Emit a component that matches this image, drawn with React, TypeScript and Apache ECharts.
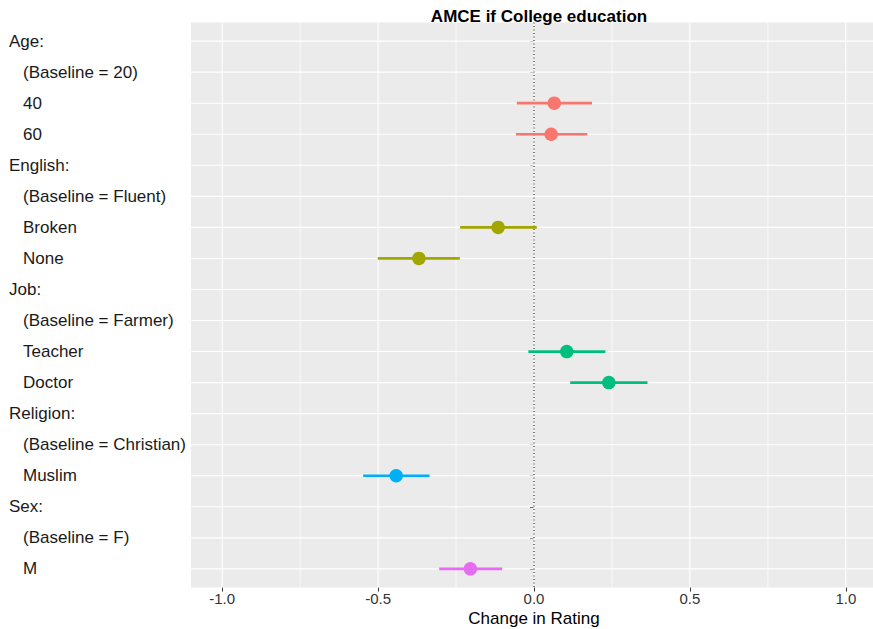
import React, { useEffect, useRef } from "react";
import * as echarts from "echarts";

// Row labels, top to bottom
const categories = [
  "Age:",
  "(Baseline = 20)",
  "40",
  "60",
  "English:",
  "(Baseline = Fluent)",
  "Broken",
  "None",
  "Job:",
  "(Baseline = Farmer)",
  "Teacher",
  "Doctor",
  "Religion:",
  "(Baseline = Christian)",
  "Muslim",
  "Sex:",
  "(Baseline = F)",
  "M",
];

// Estimated effects with confidence bounds
const levels = ["40", "60", "Broken", "None", "Teacher", "Doctor", "Muslim", "M"];
const attributes = ["Age", "Age", "English", "English", "Job", "Job", "Religion", "Sex"];
const estimates = [0.065, 0.055, -0.115, -0.369, 0.105, 0.24, -0.442, -0.204];
const lowerBounds = [-0.055, -0.058, -0.237, -0.501, -0.018, 0.116, -0.548, -0.304];
const upperBounds = [0.186, 0.171, 0.009, -0.238, 0.229, 0.364, -0.335, -0.102];

const attributeNames = ["Age", "English", "Job", "Religion", "Sex"];
const attributeColors = ["#F8766D", "#A3A500", "#00BF7D", "#00B0F6", "#E76BF3"];

// Axis breaks
const xMajorBreaks = [-1, -0.5, 0, 0.5, 1];
const xMinorBreaks = [-0.75, -0.25, 0.25, 0.75];
const rowPositions = categories.map((_, i) => i + 1);

const FONT = "'Liberation Sans', Arial, Helvetica, sans-serif";

export default function App() {
  const ref = useRef<HTMLDivElement>(null);

  useEffect(() => {
    if (!ref.current) return;
    const chart = echarts.init(ref.current, undefined, { renderer: "svg" });

    const rowOf = (level: string) => categories.indexOf(level) + 1;
    const colorOf = (i: number) => attributeColors[attributeNames.indexOf(attributes[i])];

    const vLines = [
      ...xMinorBreaks.map((v) => [v, 0]),
      ...xMajorBreaks.map((v) => [v, 1]),
    ];

    const option: any = {
      animation: false,
      textStyle: { fontFamily: FONT },
      title: {
        text: "AMCE if College education",
        left: 534,
        textAlign: "center",
        top: 3,
        textStyle: { fontFamily: FONT, fontSize: 17, fontWeight: "bold", color: "#000" },
      },
      grid: {
        left: 191,
        top: 22.5,
        width: 686,
        height: 565,
        outerBoundsMode: "none",
        containLabel: false,
        show: true,
        backgroundColor: "#EBEBEB",
        borderWidth: 0,
        borderColor: "transparent",
      },
      xAxis: {
        type: "value",
        min: -1.1,
        max: 1.1,
        axisLine: { show: false },
        splitLine: { show: false },
        axisTick: {
          show: true,
          length: 4,
          customValues: xMajorBreaks,
          lineStyle: { color: "#333", width: 1 },
        },
        axisLabel: {
          customValues: xMajorBreaks,
          formatter: (v: number) => v.toFixed(1),
          fontSize: 15,
          color: "#333",
          margin: 3,
          fontFamily: FONT,
        },
        name: "Change in Rating",
        nameLocation: "middle",
        nameGap: 20,
        nameTextStyle: { fontSize: 17, color: "#000", fontFamily: FONT },
      },
      yAxis: {
        type: "value",
        inverse: true,
        min: 0.4,
        max: 18.6,
        axisLine: { show: false },
        splitLine: { show: false },
        axisTick: {
          show: true,
          length: 4,
          customValues: rowPositions,
          lineStyle: { color: "#333", width: 1 },
        },
        axisLabel: {
          customValues: rowPositions,
          align: "left",
          margin: 182,
          fontFamily: FONT,
          formatter: (v: number) => {
            const label = categories[Math.round(v) - 1] ?? "";
            return label.endsWith(":") ? `{h|${label}}` : `{i|${label}}`;
          },
          rich: {
            h: { fontSize: 17, color: "#1a1a1a", fontFamily: FONT },
            i: { fontSize: 17, color: "#1a1a1a", fontFamily: FONT, padding: [0, 0, 0, 14] },
          },
        },
      },
      series: [
        {
          // vertical panel grid lines
          type: "custom",
          z: 1,
          silent: true,
          data: vLines,
          encode: { x: 0 },
          renderItem: (_params: any, api: any) => {
            const v = api.value(0);
            const major = api.value(1) === 1;
            const a = api.coord([v, 0.4]);
            const b = api.coord([v, 18.6]);
            return {
              type: "line",
              shape: { x1: a[0], y1: a[1], x2: b[0], y2: b[1] },
              style: { stroke: "#FFFFFF", lineWidth: major ? 1.1 : 0.7 },
            };
          },
        },
        {
          // horizontal panel grid lines, one per row
          type: "custom",
          z: 1,
          silent: true,
          data: rowPositions.map((r) => [0, r]),
          encode: { y: 1 },
          renderItem: (_params: any, api: any) => {
            const r = api.value(1);
            const a = api.coord([-1.1, r]);
            const b = api.coord([1.1, r]);
            return {
              type: "line",
              shape: { x1: a[0], y1: a[1], x2: b[0], y2: b[1] },
              style: { stroke: "#FFFFFF", lineWidth: 1.1 },
            };
          },
        },
        {
          // reference line at zero
          type: "custom",
          z: 2,
          silent: true,
          data: [[0]],
          encode: { x: 0 },
          renderItem: (_params: any, api: any) => {
            const a = api.coord([api.value(0), 0.4]);
            const b = api.coord([api.value(0), 18.6]);
            return {
              type: "line",
              shape: { x1: a[0], y1: a[1], x2: b[0], y2: b[1] },
              style: { stroke: "#000000", lineWidth: 1, lineDash: [1, 2.5] },
            };
          },
        },
        {
          // confidence intervals
          type: "custom",
          z: 3,
          data: levels.map((lv, i) => [lowerBounds[i], upperBounds[i], rowOf(lv), i]),
          encode: { x: [0, 1], y: 2 },
          renderItem: (_params: any, api: any) => {
            const lo = api.coord([api.value(0), api.value(2)]);
            const hi = api.coord([api.value(1), api.value(2)]);
            return {
              type: "line",
              shape: { x1: lo[0], y1: lo[1], x2: hi[0], y2: hi[1] },
              style: { stroke: colorOf(api.value(3)), lineWidth: 2.7 },
            };
          },
        },
        {
          // point estimates
          type: "scatter",
          z: 4,
          symbol: "circle",
          symbolSize: 13.5,
          data: levels.map((lv, i) => ({
            value: [estimates[i], rowOf(lv)],
            itemStyle: { color: colorOf(i), opacity: 1 },
          })),
        },
      ],
    };

    chart.setOption(option);
    return () => chart.dispose();
  }, []);

  return (
    <div
      ref={ref}
      style={{ position: "fixed", left: 0, top: 0, width: 873, height: 629, background: "#fff" }}
    />
  );
}
